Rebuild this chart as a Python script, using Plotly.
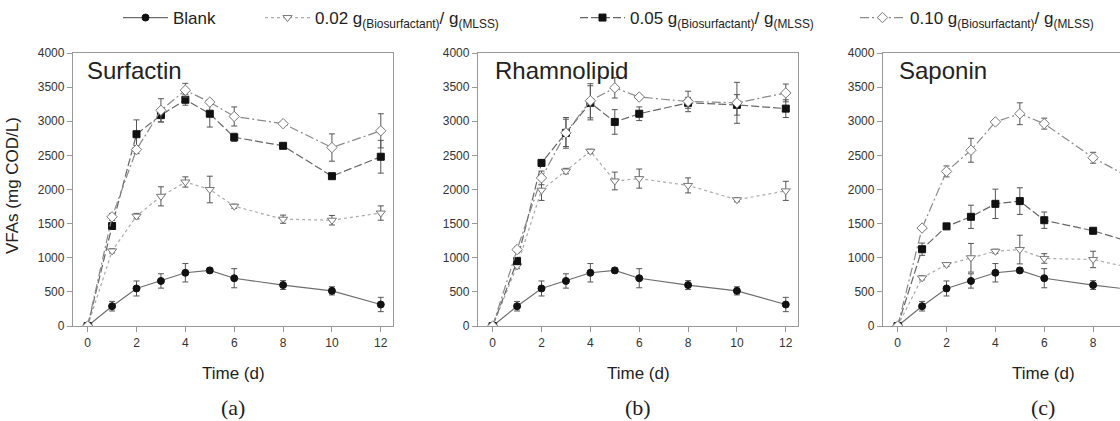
import plotly.graph_objects as go

W, H = 1120, 421

time_d = [0, 1, 2, 3, 4, 5, 6, 8, 10, 12]
x_ticks = [0, 2, 4, 6, 8, 10, 12]
y_ticks = [0, 500, 1000, 1500, 2000, 2500, 3000, 3500, 4000]

series_names = [
    "Blank",
    "0.02 g<sub>(Biosurfactant)</sub>/ g<sub>(MLSS)</sub>",
    "0.05 g<sub>(Biosurfactant)</sub>/ g<sub>(MLSS)</sub>",
    "0.10 g<sub>(Biosurfactant)</sub>/ g<sub>(MLSS)</sub>",
]
panel_names = ["Surfactin", "Rhamnolipid", "Saponin"]
panel_letters = ["(a)", "(b)", "(c)"]

# Blank (identical control in every panel)
blank = [0, 290, 550, 660, 780, 815, 700, 600, 515, 315]
blank_err = [0, 70, 110, 105, 135, 35, 140, 65, 60, 105]

# (a) Surfactin
surf_002 = [0, 1100, 1610, 1900, 2110, 2000, 1755, 1565, 1550, 1655]
surf_002_err = [0, 30, 40, 140, 75, 195, 30, 60, 70, 105]
surf_005 = [0, 1465, 2810, 3090, 3315, 3110, 2765, 2640, 2195, 2480]
surf_005_err = [0, 40, 210, 100, 80, 195, 60, 30, 30, 240]
surf_010 = [0, 1600, 2585, 3160, 3455, 3280, 3070, 2965, 2615, 2860]
surf_010_err = [0, 50, 60, 170, 100, 30, 140, 30, 200, 250]

# (b) Rhamnolipid
rham_002 = [0, 880, 1990, 2270, 2560, 2125, 2160, 2060, 1850, 1980]
rham_002_err = [0, 40, 150, 40, 30, 130, 140, 110, 30, 140]
rham_005 = [0, 950, 2390, 2830, 3270, 2990, 3110, 3270, 3240, 3185]
rham_005_err = [0, 40, 30, 225, 250, 180, 100, 80, 150, 130]
rham_010 = [0, 1120, 2170, 2830, 3300, 3490, 3355, 3290, 3270, 3415]
rham_010_err = [0, 40, 100, 200, 250, 150, 30, 150, 300, 130]

# (c) Saponin
sapo_002 = [0, 705, 900, 1000, 1095, 1120, 990, 975, 815, 850]
sapo_002_err = [0, 30, 30, 210, 30, 210, 70, 120, 60, 60]
sapo_005 = [0, 1125, 1460, 1600, 1790, 1830, 1550, 1395, 1180, 1150]
sapo_005_err = [0, 90, 30, 170, 215, 195, 120, 30, 60, 60]
sapo_010 = [0, 1435, 2265, 2575, 2990, 3110, 2965, 2465, 2080, 2100]
sapo_010_err = [0, 30, 80, 175, 30, 160, 80, 80, 80, 80]

panels = [
    [(blank, blank_err), (surf_002, surf_002_err), (surf_005, surf_005_err), (surf_010, surf_010_err)],
    [(blank, blank_err), (rham_002, rham_002_err), (rham_005, rham_005_err), (rham_010, rham_010_err)],
    [(blank, blank_err), (sapo_002, sapo_002_err), (sapo_005, sapo_005_err), (sapo_010, sapo_010_err)],
]

styles = [
    dict(line=dict(color="#6e6e6e", width=1.2, dash="solid"),
         marker=dict(symbol="circle", size=7, color="#111111", line=dict(color="#111111", width=1))),
    dict(line=dict(color="#aaaaaa", width=1.2, dash="dot"),
         marker=dict(symbol="triangle-down", size=8, color="white", line=dict(color="#777777", width=1))),
    dict(line=dict(color="#666666", width=1.2, dash="8px,3px"),
         marker=dict(symbol="square", size=7, color="#111111", line=dict(color="#111111", width=1))),
    dict(line=dict(color="#8a8a8a", width=1.2, dash="9px,3px,2px,3px"),
         marker=dict(symbol="diamond", size=8, color="white", line=dict(color="#777777", width=1))),
]

# pixel layout
x_dom_px = [(73, 393), (478, 798), (883, 1120)]
y_top, y_bot = 53, 326
x_ranges = [[-0.6, 12.5], [-0.6, 12.5], [-0.6, 9.1]]

legend_names = ["legend", "legend2", "legend3", "legend4"]
legend_x_px = [118, 260, 575, 855]

fig = go.Figure()
for p, pdata in enumerate(panels):
    xa = "x" if p == 0 else f"x{p+1}"
    ya = "y" if p == 0 else f"y{p+1}"
    for s, (vals, errs) in enumerate(pdata):
        fig.add_trace(go.Scatter(
            x=time_d, y=vals,
            error_y=dict(type="data", array=errs, visible=True, color="#555555", thickness=1, width=3),
            mode="lines+markers",
            name=series_names[s],
            line=styles[s]["line"], marker=styles[s]["marker"],
            xaxis=xa, yaxis=ya,
            showlegend=(p == 0),
            legend=legend_names[s],
            cliponaxis=True,
        ))

axis_common = dict(
    showline=True, linecolor="#999999", linewidth=1.3,
    ticks="outside", ticklen=5, tickcolor="#999999", tickwidth=1,
    showgrid=False, zeroline=False, automargin=False,
    tickfont=dict(family="Liberation Sans, Arial, sans-serif", size=12, color="#333333"),
)

layout = dict(
    width=W, height=H,
    margin=dict(l=0, r=0, t=0, b=0, autoexpand=False),
    paper_bgcolor="white", plot_bgcolor="white",
    font=dict(family="Liberation Sans, Arial, sans-serif", color="#222222"),
)
for p in range(3):
    xk = "xaxis" if p == 0 else f"xaxis{p+1}"
    yk = "yaxis" if p == 0 else f"yaxis{p+1}"
    ya = "y" if p == 0 else f"y{p+1}"
    xa = "x" if p == 0 else f"x{p+1}"
    x0, x1 = x_dom_px[p]
    layout[xk] = dict(axis_common, domain=[x0 / W, x1 / W], range=x_ranges[p],
                      tickvals=x_ticks, anchor=ya, mirror=True)
    layout[yk] = dict(axis_common, domain=[1 - y_bot / H, 1 - y_top / H], range=[0, 4000],
                      tickvals=y_ticks, anchor=xa, mirror=(p < 2))

for i, ln in enumerate(legend_names):
    layout[ln] = dict(
        orientation="h", x=legend_x_px[i] / W, xanchor="left",
        y=1 - 18 / H, yanchor="middle",
        bgcolor="rgba(0,0,0,0)", borderwidth=0,
        font=dict(family="Liberation Sans, Arial, sans-serif", size=17, color="#222222"),
        itemwidth=45,
    )

fig.update_layout(**layout)

annos = []
name_left_px = [85, 493, 897]
for p in range(3):
    center = (x_dom_px[p][0] + x_dom_px[p][0] + 320) / 2
    annos.append(dict(text=panel_names[p], x=name_left_px[p] / W, y=1 - 70 / H,
                      xref="paper", yref="paper", xanchor="left", yanchor="middle",
                      showarrow=False, font=dict(size=24, color="#222222")))
    annos.append(dict(text="Time (d)", x=center / W, y=1 - 373 / H,
                      xref="paper", yref="paper", xanchor="center", yanchor="middle",
                      showarrow=False, font=dict(size=17, color="#222222")))
    annos.append(dict(text=panel_letters[p], x=center / W, y=1 - 407 / H,
                      xref="paper", yref="paper", xanchor="center", yanchor="middle",
                      showarrow=False,
                      font=dict(family="Liberation Serif, Times New Roman, serif", size=22, color="#222222")))
annos.append(dict(text="VFAs (mg COD/L)", x=13 / W, y=1 - 186 / H, textangle=-90,
                  xref="paper", yref="paper", xanchor="center", yanchor="middle",
                  showarrow=False, font=dict(size=17, color="#222222")))
fig.update_layout(annotations=annos)

fig.write_html("out.html",
               config={"displayModeBar": False},
               post_script="document.body.style.margin='0';document.body.style.overflow='hidden';")
